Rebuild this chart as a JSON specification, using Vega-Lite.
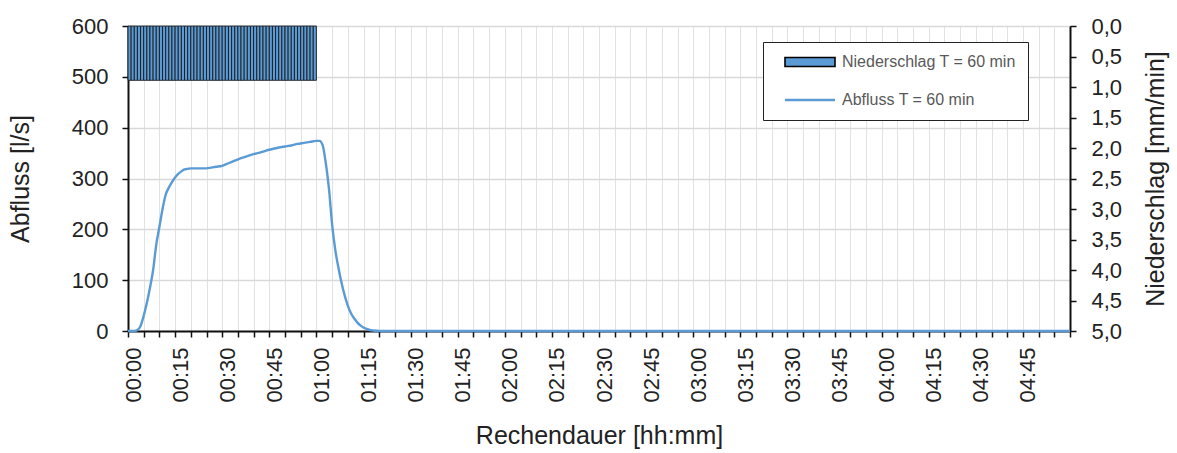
{
  "$schema": "https://vega.github.io/schema/vega-lite/v6.json",
  "autosize": {"type": "none"},
  "padding": {"left": 128, "top": 26, "right": 107, "bottom": 122},
  "width": 942,
  "height": 305,
  "background": "white",
  "config": {
    "font": "Liberation Sans",
    "view": {"stroke": null},
    "axis": {
      "labelFont": "Liberation Sans",
      "titleFont": "Liberation Sans",
      "labelFontSize": 22,
      "titleFontSize": 25,
      "titleFontWeight": "normal",
      "labelColor": "#222222",
      "titleColor": "#222222",
      "domainColor": "#111111",
      "domainWidth": 2,
      "tickColor": "#111111",
      "tickWidth": 1.5,
      "tickSize": 6
    }
  },
  "datasets": {
    "abfluss": [
      {"t": 0, "q": 0, "serie": "Abfluss T = 60 min"},
      {"t": 1, "q": 0, "serie": "Abfluss T = 60 min"},
      {"t": 2, "q": 0, "serie": "Abfluss T = 60 min"},
      {"t": 3, "q": 2, "serie": "Abfluss T = 60 min"},
      {"t": 4, "q": 10, "serie": "Abfluss T = 60 min"},
      {"t": 5, "q": 30, "serie": "Abfluss T = 60 min"},
      {"t": 6, "q": 55, "serie": "Abfluss T = 60 min"},
      {"t": 7, "q": 85, "serie": "Abfluss T = 60 min"},
      {"t": 8, "q": 120, "serie": "Abfluss T = 60 min"},
      {"t": 9, "q": 170, "serie": "Abfluss T = 60 min"},
      {"t": 10, "q": 205, "serie": "Abfluss T = 60 min"},
      {"t": 11, "q": 240, "serie": "Abfluss T = 60 min"},
      {"t": 12, "q": 268, "serie": "Abfluss T = 60 min"},
      {"t": 13, "q": 282, "serie": "Abfluss T = 60 min"},
      {"t": 14, "q": 293, "serie": "Abfluss T = 60 min"},
      {"t": 15, "q": 302, "serie": "Abfluss T = 60 min"},
      {"t": 16, "q": 309, "serie": "Abfluss T = 60 min"},
      {"t": 17, "q": 314, "serie": "Abfluss T = 60 min"},
      {"t": 18, "q": 318, "serie": "Abfluss T = 60 min"},
      {"t": 19, "q": 319, "serie": "Abfluss T = 60 min"},
      {"t": 20, "q": 320, "serie": "Abfluss T = 60 min"},
      {"t": 22, "q": 320, "serie": "Abfluss T = 60 min"},
      {"t": 24, "q": 320, "serie": "Abfluss T = 60 min"},
      {"t": 26, "q": 321, "serie": "Abfluss T = 60 min"},
      {"t": 28, "q": 323, "serie": "Abfluss T = 60 min"},
      {"t": 30, "q": 325, "serie": "Abfluss T = 60 min"},
      {"t": 32, "q": 330, "serie": "Abfluss T = 60 min"},
      {"t": 34, "q": 335, "serie": "Abfluss T = 60 min"},
      {"t": 36, "q": 340, "serie": "Abfluss T = 60 min"},
      {"t": 38, "q": 344, "serie": "Abfluss T = 60 min"},
      {"t": 40, "q": 348, "serie": "Abfluss T = 60 min"},
      {"t": 42, "q": 351, "serie": "Abfluss T = 60 min"},
      {"t": 44, "q": 355, "serie": "Abfluss T = 60 min"},
      {"t": 46, "q": 358, "serie": "Abfluss T = 60 min"},
      {"t": 48, "q": 361, "serie": "Abfluss T = 60 min"},
      {"t": 50, "q": 363, "serie": "Abfluss T = 60 min"},
      {"t": 52, "q": 365, "serie": "Abfluss T = 60 min"},
      {"t": 54, "q": 368, "serie": "Abfluss T = 60 min"},
      {"t": 56, "q": 370, "serie": "Abfluss T = 60 min"},
      {"t": 58, "q": 372, "serie": "Abfluss T = 60 min"},
      {"t": 60, "q": 374, "serie": "Abfluss T = 60 min"},
      {"t": 61, "q": 374, "serie": "Abfluss T = 60 min"},
      {"t": 62, "q": 365, "serie": "Abfluss T = 60 min"},
      {"t": 63, "q": 330, "serie": "Abfluss T = 60 min"},
      {"t": 64, "q": 280, "serie": "Abfluss T = 60 min"},
      {"t": 65, "q": 210, "serie": "Abfluss T = 60 min"},
      {"t": 66, "q": 160, "serie": "Abfluss T = 60 min"},
      {"t": 67, "q": 125, "serie": "Abfluss T = 60 min"},
      {"t": 68, "q": 95, "serie": "Abfluss T = 60 min"},
      {"t": 69, "q": 70, "serie": "Abfluss T = 60 min"},
      {"t": 70, "q": 50, "serie": "Abfluss T = 60 min"},
      {"t": 71, "q": 35, "serie": "Abfluss T = 60 min"},
      {"t": 72, "q": 25, "serie": "Abfluss T = 60 min"},
      {"t": 73, "q": 17, "serie": "Abfluss T = 60 min"},
      {"t": 74, "q": 11, "serie": "Abfluss T = 60 min"},
      {"t": 75, "q": 7, "serie": "Abfluss T = 60 min"},
      {"t": 76, "q": 4, "serie": "Abfluss T = 60 min"},
      {"t": 77, "q": 2, "serie": "Abfluss T = 60 min"},
      {"t": 78, "q": 1, "serie": "Abfluss T = 60 min"},
      {"t": 80, "q": 0, "serie": "Abfluss T = 60 min"},
      {"t": 300, "q": 0, "serie": "Abfluss T = 60 min"}
    ],
    "regen": [
      {"t0": 0, "t1": 1, "n": 0.89},
      {"t0": 1, "t1": 2, "n": 0.89},
      {"t0": 2, "t1": 3, "n": 0.89},
      {"t0": 3, "t1": 4, "n": 0.89},
      {"t0": 4, "t1": 5, "n": 0.89},
      {"t0": 5, "t1": 6, "n": 0.89},
      {"t0": 6, "t1": 7, "n": 0.89},
      {"t0": 7, "t1": 8, "n": 0.89},
      {"t0": 8, "t1": 9, "n": 0.89},
      {"t0": 9, "t1": 10, "n": 0.89},
      {"t0": 10, "t1": 11, "n": 0.89},
      {"t0": 11, "t1": 12, "n": 0.89},
      {"t0": 12, "t1": 13, "n": 0.89},
      {"t0": 13, "t1": 14, "n": 0.89},
      {"t0": 14, "t1": 15, "n": 0.89},
      {"t0": 15, "t1": 16, "n": 0.89},
      {"t0": 16, "t1": 17, "n": 0.89},
      {"t0": 17, "t1": 18, "n": 0.89},
      {"t0": 18, "t1": 19, "n": 0.89},
      {"t0": 19, "t1": 20, "n": 0.89},
      {"t0": 20, "t1": 21, "n": 0.89},
      {"t0": 21, "t1": 22, "n": 0.89},
      {"t0": 22, "t1": 23, "n": 0.89},
      {"t0": 23, "t1": 24, "n": 0.89},
      {"t0": 24, "t1": 25, "n": 0.89},
      {"t0": 25, "t1": 26, "n": 0.89},
      {"t0": 26, "t1": 27, "n": 0.89},
      {"t0": 27, "t1": 28, "n": 0.89},
      {"t0": 28, "t1": 29, "n": 0.89},
      {"t0": 29, "t1": 30, "n": 0.89},
      {"t0": 30, "t1": 31, "n": 0.89},
      {"t0": 31, "t1": 32, "n": 0.89},
      {"t0": 32, "t1": 33, "n": 0.89},
      {"t0": 33, "t1": 34, "n": 0.89},
      {"t0": 34, "t1": 35, "n": 0.89},
      {"t0": 35, "t1": 36, "n": 0.89},
      {"t0": 36, "t1": 37, "n": 0.89},
      {"t0": 37, "t1": 38, "n": 0.89},
      {"t0": 38, "t1": 39, "n": 0.89},
      {"t0": 39, "t1": 40, "n": 0.89},
      {"t0": 40, "t1": 41, "n": 0.89},
      {"t0": 41, "t1": 42, "n": 0.89},
      {"t0": 42, "t1": 43, "n": 0.89},
      {"t0": 43, "t1": 44, "n": 0.89},
      {"t0": 44, "t1": 45, "n": 0.89},
      {"t0": 45, "t1": 46, "n": 0.89},
      {"t0": 46, "t1": 47, "n": 0.89},
      {"t0": 47, "t1": 48, "n": 0.89},
      {"t0": 48, "t1": 49, "n": 0.89},
      {"t0": 49, "t1": 50, "n": 0.89},
      {"t0": 50, "t1": 51, "n": 0.89},
      {"t0": 51, "t1": 52, "n": 0.89},
      {"t0": 52, "t1": 53, "n": 0.89},
      {"t0": 53, "t1": 54, "n": 0.89},
      {"t0": 54, "t1": 55, "n": 0.89},
      {"t0": 55, "t1": 56, "n": 0.89},
      {"t0": 56, "t1": 57, "n": 0.89},
      {"t0": 57, "t1": 58, "n": 0.89},
      {"t0": 58, "t1": 59, "n": 0.89},
      {"t0": 59, "t1": 60, "n": 0.89}
    ]
  },
  "encoding": {
    "x": {
      "type": "quantitative",
      "scale": {"domain": [0, 300], "nice": false, "zero": false},
      "axis": {
        "title": "Rechendauer [hh:mm]",
        "values": [0,5,10,15,20,25,30,35,40,45,50,55,60,65,70,75,80,85,90,95,100,105,110,115,120,125,130,135,140,145,150,155,160,165,170,175,180,185,190,195,200,205,210,215,220,225,230,235,240,245,250,255,260,265,270,275,280,285,290,295,300],
        "labelExpr": "datum.value % 15 === 0 && datum.value < 300 ? format(floor(datum.value / 60), '02d') + ':' + format(datum.value % 60, '02d') : ''",
        "labelAngle": 270,
        "labelAlign": "right",
        "labelBaseline": "middle",
        "labelOffset": 5,
        "labelPadding": 10,
        "labelFlush": false,
        "labelOverlap": false,
        "labelBound": false,
        "grid": true,
        "gridColor": "#e2e2e2",
        "gridWidth": 1,
        "titlePadding": 21
      }
    }
  },
  "layer": [
    {
      "data": {"name": "abfluss"},
      "mark": {"type": "line", "strokeWidth": 2.4, "interpolate": "monotone"},
      "encoding": {
        "x": {"field": "t", "type": "quantitative"},
        "y": {
          "field": "q",
          "type": "quantitative",
          "scale": {"domain": [0, 600], "nice": false},
          "axis": {
            "title": "Abfluss [l/s]",
            "values": [0, 100, 200, 300, 400, 500, 600],
            "labelPadding": 14,
            "grid": true,
            "gridColor": "#d9d9d9",
            "gridWidth": 1.5,
            "titlePadding": 38
          }
        },
        "color": {
          "field": "serie",
          "type": "nominal",
          "scale": {"domain": ["Niederschlag T = 60 min", "Abfluss T = 60 min"], "range": ["#000000", "#5B9BD5"]},
          "legend": {
            "title": null,
            "orient": "none",
            "legendX": 635,
            "legendY": 16,
            "padding": 12,
            "strokeColor": "#222222",
            "fillColor": "white",
            "labelFont": "Liberation Sans",
            "labelFontSize": 16,
            "labelColor": "#595959",
            "labelOffset": 49,
            "symbolOffset": 2,
            "symbolSize": 400,
            "rowPadding": 22,
            "labelLimit": 400,
            "encode": {
              "symbols": {
                "update": {
                  "shape": {"signal": "datum.value === 'Abfluss T = 60 min' ? 'M0,0H5' : 'M0,-0.45H5V0.45H0Z'"},
                  "fill": {"signal": "datum.value === 'Abfluss T = 60 min' ? 'transparent' : '#5B9BD5'"},
                  "strokeWidth": {"signal": "datum.value === 'Abfluss T = 60 min' ? 2.4 : 1.6"},
                  "opacity": {"value": 1}
                }
              }
            }
          }
        }
      }
    },
    {
      "data": {"name": "regen"},
      "mark": {"type": "rect", "fill": "#5B9BD5", "stroke": "#1a1a1a", "strokeWidth": 0.9},
      "encoding": {
        "x": {"field": "t0", "type": "quantitative"},
        "x2": {"field": "t1"},
        "y": {
          "field": "n",
          "type": "quantitative",
          "scale": {"domain": [0, 5], "reverse": true, "nice": false},
          "axis": {
            "orient": "right",
            "title": "Niederschlag [mm/min]",
            "titleAngle": 270,
            "titleBaseline": "top",
            "values": [0, 0.5, 1, 1.5, 2, 2.5, 3, 3.5, 4, 4.5, 5],
            "labelExpr": "replace(format(datum.value, '.1f'), '.', ',')",
            "labelPadding": 15,
            "grid": false,
            "titlePadding": 22
          }
        },
        "y2": {"datum": 0}
      }
    }
  ],
  "resolve": {"scale": {"y": "independent"}}
}
